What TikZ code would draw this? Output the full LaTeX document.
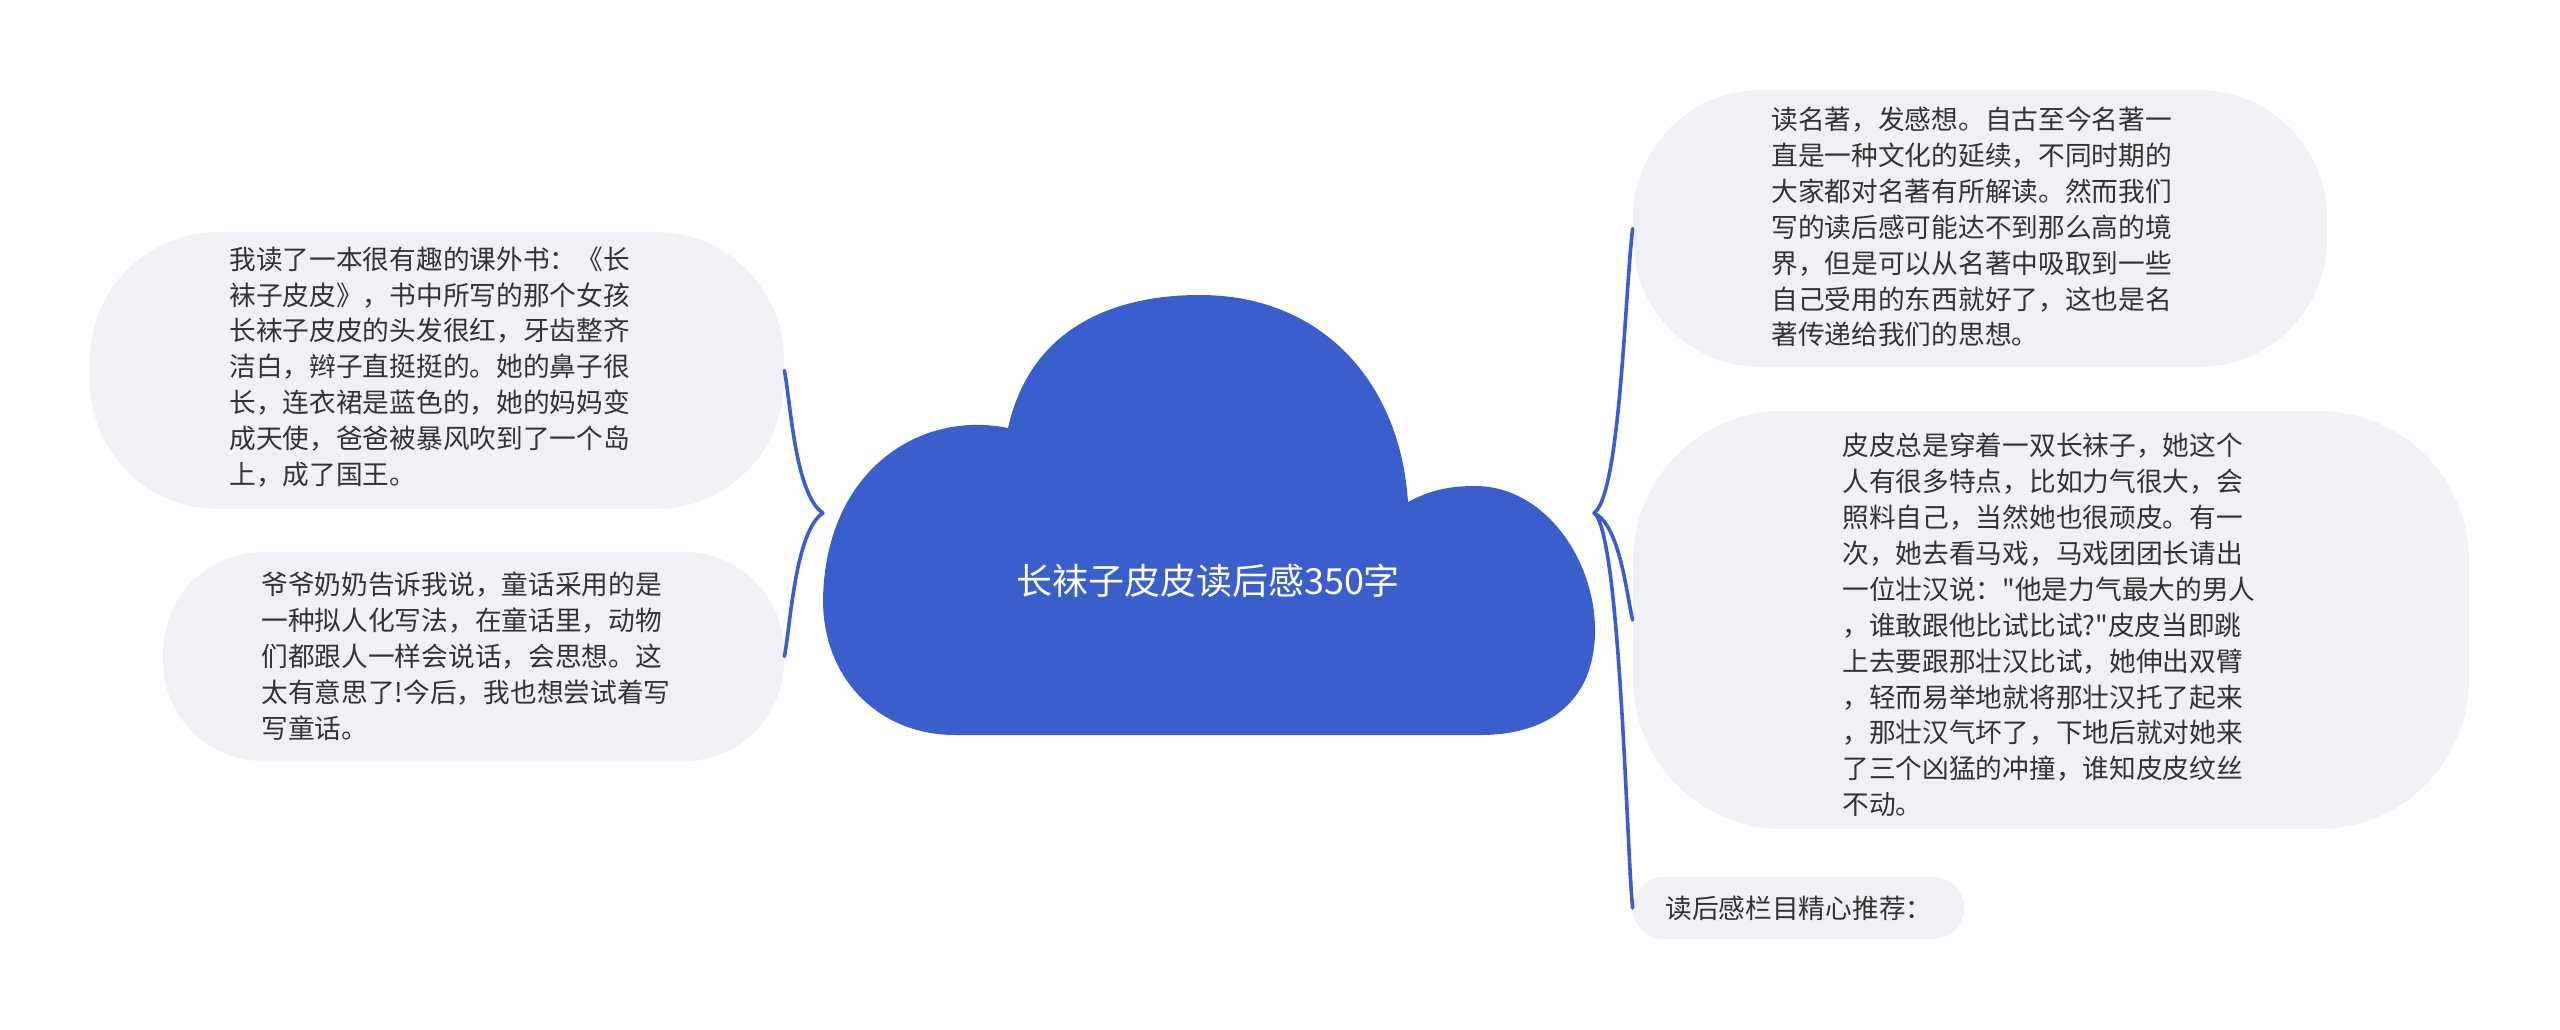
\documentclass[tikz,border=0pt]{standalone}
\usepackage{fontspec}
\newfontfamily\cjk{Noto Sans CJK SC}
\definecolor{cloudblue}{RGB}{59,94,205}
\definecolor{boxfill}{RGB}{239,241,245}
\definecolor{txt}{RGB}{51,51,51}
\begin{document}
\begin{tikzpicture}[x=0.5pt,y=-0.5pt,
  box/.style={draw=none,fill=boxfill,inner sep=0pt},
  para/.style={anchor=west,align=left,inner sep=0pt,text=txt,font=\cjk\fontsize{13.35pt}{17.95pt}\selectfont},
  link/.style={draw=cloudblue,line width=1.8pt,line cap=round},
  roottext/.style={inner sep=0pt,text=white,font=\cjk\fontsize{18pt}{22pt}\selectfont}]
\useasboundingbox (0,0) rectangle (2560,1029);
% cloud
\fill[cloudblue] (823,600)
  .. controls (825,470) and (920,410) .. (1008,428)
  .. controls (1030,330) and (1110,295) .. (1200,295)
  .. controls (1320,295) and (1400,380) .. (1408,502)
  .. controls (1430,490) and (1450,486) .. (1475,486)
  .. controls (1545,486) and (1595,560) .. (1595,630)
  .. controls (1595,700) and (1550,735) .. (1480,735)
  -- (955,735)
  .. controls (880,735) and (823,680) .. (823,600) -- cycle;
\node[roottext] (root) at (1208,581) {长袜子皮皮读后感350字};
\coordinate (rootL) at (823,513);
\coordinate (rootR) at (1594,513);
% boxes
\node[box,minimum width=347pt,minimum height=138.5pt,rounded corners=64pt] (l1) at (437,370.5) {};
\node[box,minimum width=310.5pt,minimum height=104.5pt,rounded corners=50pt] (l2) at (473.5,656.5) {};
\node[box,minimum width=347pt,minimum height=138.5pt,rounded corners=64pt] (r1) at (1980,228.5) {};
\node[box,minimum width=418pt,minimum height=209pt,rounded corners=75pt] (r2) at (2051,620) {};
\node[box,minimum width=165.5pt,minimum height=31pt,rounded corners=15.4pt] (r3) at (1798.5,908) {};
% texts
\node[para] (l1t) at (229,367) {我读了一本很有趣的课外书：《长\\袜子皮皮》，书中所写的那个女孩\\长袜子皮皮的头发很红，牙齿整齐\\洁白，辫子直挺挺的。她的鼻子很\\长，连衣裙是蓝色的，她的妈妈变\\成天使，爸爸被暴风吹到了一个岛\\上，成了国王。};
\node[para] (l2t) at (261,656) {爷爷奶奶告诉我说，童话采用的是\\一种拟人化写法，在童话里，动物\\们都跟人一样会说话，会思想。这\\太有意思了!今后，我也想尝试着写\\写童话。};
\node[para] (r1t) at (1771,227) {读名著，发感想。自古至今名著一\\直是一种文化的延续，不同时期的\\大家都对名著有所解读。然而我们\\写的读后感可能达不到那么高的境\\界，但是可以从名著中吸取到一些\\自己受用的东西就好了，这也是名\\著传递给我们的思想。};
\node[para] (r2t) at (1842,625) {皮皮总是穿着一双长袜子，她这个\\人有很多特点，比如力气很大，会\\照料自己，当然她也很顽皮。有一\\次，她去看马戏，马戏团团长请出\\一位壮汉说："他是力气最大的男人\\，谁敢跟他比试比试?"皮皮当即跳\\上去要跟那壮汉比试，她伸出双臂\\，轻而易举地就将那壮汉托了起来\\，那壮汉气坏了，下地后就对她来\\了三个凶猛的冲撞，谁知皮皮纹丝\\不动。};
\node[para] (r3t) at (1665,908) {读后感栏目精心推荐：};
% connectors
\draw[link] (rootL) .. controls +(-28,-18) and +(6,30) .. (l1.east);
\draw[link] (rootL) .. controls +(-28,18) and +(6,-30) .. (l2.east);
\draw[link] (rootR) .. controls +(26,-18) and +(-8,70) .. (r1.west);
\draw[link] (rootR) .. controls +(26,12) and +(-6,-25) .. (r2.west);
\draw[link] (rootR) .. controls +(26,18) and +(-6,-60) .. (r3.west);
\end{tikzpicture}
\end{document}
